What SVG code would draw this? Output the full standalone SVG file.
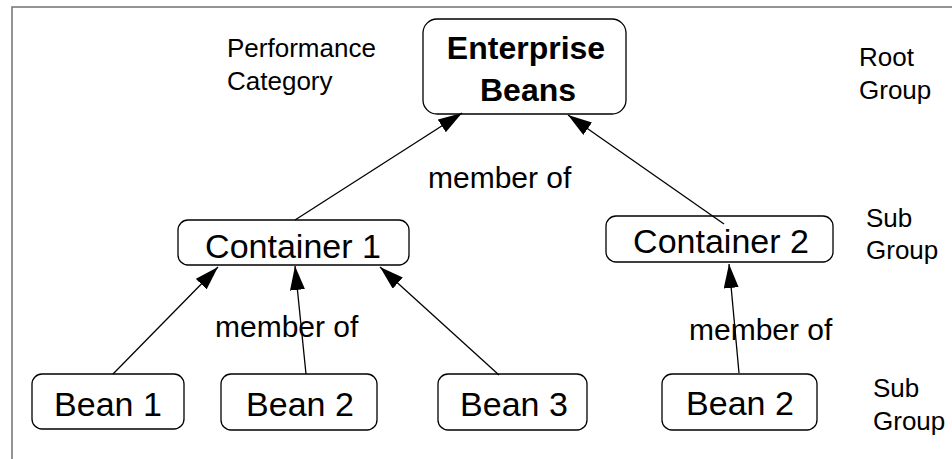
<svg xmlns="http://www.w3.org/2000/svg" width="952" height="459" viewBox="0 0 952 459">
<style>
text{font-family:"Liberation Sans",Arial,sans-serif;fill:#000}
.box{fill:#fff;stroke:#000;stroke-width:1.3}
.nl{font-size:34px;text-anchor:middle}
.bl{font-size:32px;font-weight:bold;text-anchor:middle}
.lab{font-size:26px}
.mem{font-size:30px}
.con{stroke:#000;stroke-width:1.3;fill:none;marker-end:url(#ah)}
</style>
<defs>
<marker id="ah" markerUnits="userSpaceOnUse" markerWidth="26" markerHeight="16" refX="24" refY="7.5" orient="auto">
<path d="M0,0 L24,7.5 L0,15 z" fill="#000"/>
</marker>
</defs>
<rect x="0" y="0" width="952" height="459" fill="#fff"/>
<rect x="12" y="7" width="960" height="470" fill="none" stroke="#7a7a7a" stroke-width="1.6"/>
<g id="labels">
<text class="lab" x="227" y="57">Performance</text>
<text class="lab" x="227" y="90">Category</text>
<text class="lab" x="859" y="66">Root</text>
<text class="lab" x="859" y="99">Group</text>
<text class="lab" x="866" y="227">Sub</text>
<text class="lab" x="866" y="259">Group</text>
<text class="lab" x="873" y="397">Sub</text>
<text class="lab" x="873" y="430">Group</text>
<text class="mem" x="428" y="188">member of</text>
<text class="mem" x="215" y="337">member of</text>
<text class="mem" x="689" y="340">member of</text>
</g>
<g id="enterprise-beans">
<rect class="box" x="423" y="19" width="203" height="95" rx="14"/>
<text class="bl" x="526" y="59">Enterprise</text>
<text class="bl" x="528" y="101">Beans</text>
</g>
<g id="container-1">
<rect class="box" x="178" y="220" width="231" height="45" rx="10"/>
<text class="nl" x="293" y="258">Container 1</text>
</g>
<g id="container-2">
<rect class="box" x="606" y="216" width="227" height="46" rx="10"/>
<text class="nl" x="721" y="253">Container 2</text>
</g>
<g id="bean-1">
<rect class="box" x="32" y="374" width="152" height="55" rx="10"/>
<text class="nl" x="108" y="416">Bean 1</text>
</g>
<g id="bean-2">
<rect class="box" x="221" y="374" width="156" height="56" rx="10"/>
<text class="nl" x="300" y="416">Bean 2</text>
</g>
<g id="bean-3">
<rect class="box" x="438" y="374" width="149" height="56" rx="10"/>
<text class="nl" x="514" y="416">Bean 3</text>
</g>
<g id="bean-2b">
<rect class="box" x="662" y="374" width="155" height="56" rx="10"/>
<text class="nl" x="740" y="415">Bean 2</text>
</g>
<g id="connectors">
<line class="con" x1="295" y1="220" x2="462" y2="113"/>
<line class="con" x1="724" y1="224" x2="568" y2="115"/>
<line class="con" x1="113" y1="374" x2="218" y2="267"/>
<line class="con" x1="306" y1="374" x2="295" y2="266"/>
<line class="con" x1="499" y1="375" x2="380" y2="267"/>
<line class="con" x1="739" y1="373" x2="729" y2="264"/>
</g>
</svg>
